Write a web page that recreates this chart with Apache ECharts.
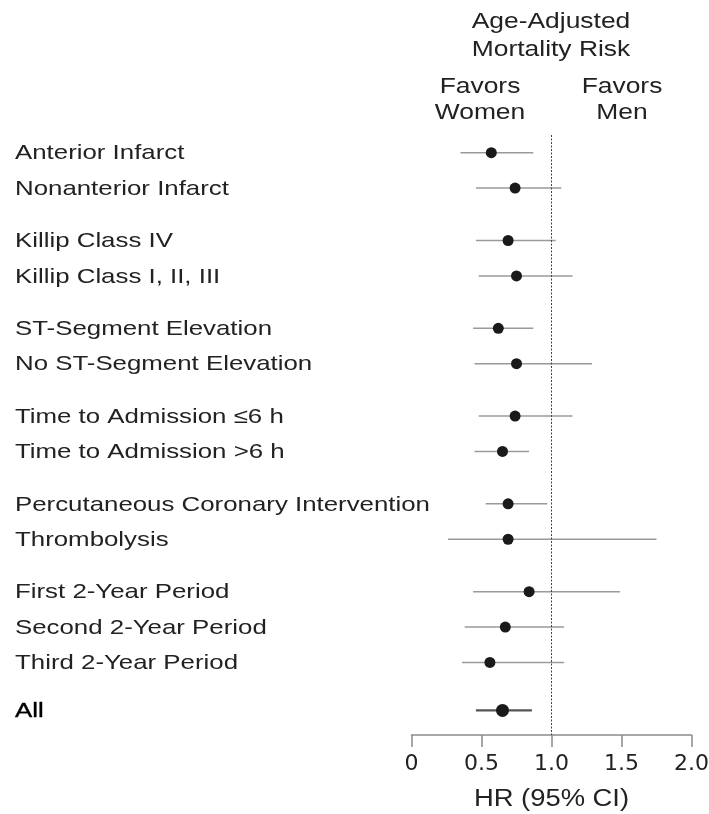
<!DOCTYPE html>
<html>
<head>
<meta charset="utf-8">
<script src="https://cdn.jsdelivr.net/npm/echarts@6/dist/echarts.min.js"></script>
<style>
html,body{margin:0;padding:0;background:#fff;}
#chart{width:709px;height:814px;}
</style>
</head>
<body>
<div id="chart"></div>
<script>
var labels = [
  'Anterior Infarct', 'Nonanterior Infarct',
  'Killip Class IV', 'Killip Class I, II, III',
  'ST-Segment Elevation', 'No ST-Segment Elevation',
  'Time to Admission \u22646 h', 'Time to Admission >6 h',
  'Percutaneous Coronary Intervention', 'Thrombolysis',
  'First 2-Year Period', 'Second 2-Year Period', 'Third 2-Year Period',
  'All'
];
var groups = [0,0,1,1,2,2,3,3,4,4,5,5,5,6];
var hr    = [0.57, 0.74, 0.69, 0.75, 0.62, 0.75, 0.74, 0.65, 0.69, 0.69, 0.84, 0.67, 0.56, 0.65];
var lower = [0.35, 0.46, 0.46, 0.48, 0.44, 0.45, 0.48, 0.45, 0.53, 0.26, 0.44, 0.38, 0.36, 0.46];
var upper = [0.87, 1.07, 1.03, 1.15, 0.87, 1.29, 1.15, 0.84, 0.97, 1.75, 1.49, 1.09, 1.09, 0.86];
var xTicks = [0, 0.5, 1.0, 1.5, 2.0];
var headerLines = ['Age-Adjusted', 'Mortality Risk'];
var leftHeader = ['Favors', 'Women'];
var rightHeader = ['Favors', 'Men'];
var axisTitle = 'HR (95% CI)';
var groupGap = 0.48;     // extra spacing between subgroup blocks
var summaryGap = 0.356;  // extra spacing before the overall row

var FONT = '"Liberation Sans", Arial, Helvetica, sans-serif';
var TXT = '#222';
var lastGroup = groups[groups.length - 1];

var rows = labels.map(function(l, i){
  var g = groups[i];
  var pos = i + groupGap * Math.min(g, lastGroup - 1) + (g === lastGroup ? summaryGap : 0);
  return [hr[i], pos, lower[i], upper[i], i];
});

function headText(t, x, y, size, sx){
  return { type: 'text', x: x, y: y, scaleX: sx,
    style: { text: t, x: 0, y: 0, align: 'center', verticalAlign: 'middle', font: size + 'px ' + FONT, fill: TXT } };
}

var chart = echarts.init(document.getElementById('chart'));
chart.setOption({
  animation: false,
  backgroundColor: '#fff',
  grid: { left: 411.5, right: 17.5, top: 135, bottom: 79, containLabel: false, outerBoundsMode: 'none' },
  xAxis: {
    type: 'value', min: 0, max: 2, interval: 0.5,
    axisLine: { show: true, onZero: false, lineStyle: { color: '#8a8a8a', width: 1.5 } },
    axisTick: { show: true, inside: false, length: 12, lineStyle: { color: '#8a8a8a', width: 1.5 } },
    splitLine: { show: false },
    axisLabel: {
      fontFamily: '"DejaVu Sans", sans-serif', fontSize: 22, color: TXT, margin: 18,
      showMinLabel: true, showMaxLabel: true, hideOverlap: false,
      formatter: function(v){
        for (var k = 0; k < xTicks.length; k++) {
          if (Math.abs(xTicks[k] - v) < 1e-9) return v === 0 ? '0' : v.toFixed(1);
        }
        return '';
      }
    }
  },
  yAxis: {
    type: 'value', inverse: true, min: -0.5, max: 16.45,
    show: false
  },
  graphic: [
    headText(headerLines[0], 551, 22, 22, 1.2),
    headText(headerLines[1], 551, 50, 22, 1.2),
    headText(leftHeader[0], 480, 87, 22, 1.2),
    headText(leftHeader[1], 480, 113, 22, 1.2),
    headText(rightHeader[0], 622, 87, 22, 1.2),
    headText(rightHeader[1], 622, 113, 22, 1.2),
    headText(axisTitle, 551.5, 800, 23, 1.19)
  ],
  series: [
    {
      type: 'custom',
      data: rows,
      encode: { x: [0, 2, 3], y: 1 },
      renderItem: function(params, api){
        var y = api.value(1);
        var idx = api.value(4);
        var isAll = idx === labels.length - 1;
        var p1 = api.coord([api.value(2), y]);
        var p2 = api.coord([api.value(3), y]);
        return {
          type: 'group',
          children: [
            { type: 'line', shape: { x1: p1[0], y1: p1[1], x2: p2[0], y2: p2[1] },
              style: { stroke: isAll ? '#555' : '#9a9a9a', lineWidth: isAll ? 2.2 : 1.5 } },
            { type: 'text', x: 15, y: p1[1] + 1, scaleX: 1.23,
              style: { text: labels[idx], x: 0, y: 0, align: 'left', verticalAlign: 'middle',
                font: '21px ' + FONT, fill: isAll ? '#000' : TXT,
                stroke: isAll ? '#000' : null, lineWidth: isAll ? 0.35 : 0 } }
          ]
        };
      },
      z: 2
    },
    {
      type: 'scatter',
      data: rows,
      encode: { x: 0, y: 1 },
      symbol: 'circle',
      symbolSize: function(v){ return v[4] === labels.length - 1 ? 13 : 11; },
      itemStyle: { color: '#1a1a1a', opacity: 1 },
      z: 3,
      markLine: {
        silent: true, symbol: 'none', animation: false,
        label: { show: false },
        lineStyle: { color: '#444', type: [2, 1.5], width: 1 },
        data: [{ xAxis: 1.0 }]
      }
    }
  ]
});
</script>
</body>
</html>
